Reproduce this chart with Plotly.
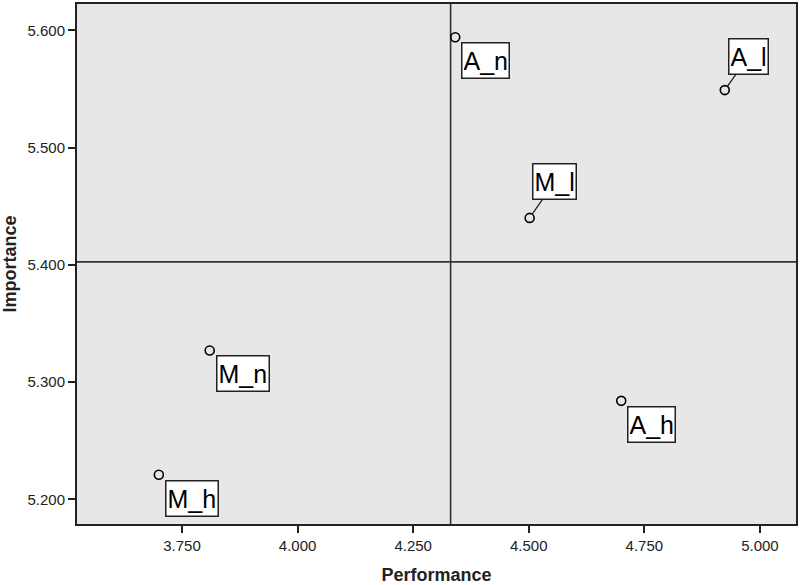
import plotly.graph_objects as go

# ---- data ----
labels = ["A_n", "A_l", "M_l", "M_n", "M_h", "A_h"]
performance = [4.341, 4.924, 4.502, 3.810, 3.700, 4.700]
importance = [5.594, 5.549, 5.440, 5.327, 5.221, 5.284]
mean_performance = 4.331
mean_importance = 5.4025
x_ticks = [3.75, 4.0, 4.25, 4.5, 4.75, 5.0]
y_ticks = [5.2, 5.3, 5.4, 5.5, 5.6]

# ---- label placement (pixel offsets) ----
leader = {"A_l": (24, -34), "M_l": (25, -36)}

FONT = "Liberation Sans, Arial, sans-serif"

fig = go.Figure()
fig.add_trace(go.Scatter(
    x=performance, y=importance, mode="markers",
    marker=dict(symbol="circle-open", size=9, color="black",
                line=dict(width=1.6, color="black")),
    hoverinfo="skip", showlegend=False))

fig.add_shape(type="line", xref="x", yref="paper", x0=mean_performance, x1=mean_performance,
              y0=0, y1=1, line=dict(color="#333333", width=1.6), layer="below")
fig.add_shape(type="line", xref="paper", yref="y", x0=0, x1=1,
              y0=mean_importance, y1=mean_importance,
              line=dict(color="#333333", width=1.6), layer="below")

for lab, px, py in zip(labels, performance, importance):
    common = dict(x=px, y=py, xref="x", yref="y", text=lab,
                  font=dict(family=FONT, size=25, color="black"),
                  bgcolor="white", bordercolor="#222222", borderwidth=1.5,
                  borderpad=1, height=32)
    if lab in leader:
        ax, ay = leader[lab]
        fig.add_annotation(**common, showarrow=True, ax=ax, ay=ay,
                           arrowhead=0, arrowwidth=1.3, arrowcolor="#222222",
                           standoff=4.5)
    else:
        fig.add_annotation(**common, showarrow=False, xanchor="left", yanchor="top",
                           xshift=6, yshift=-5)

axis_common = dict(showgrid=False, zeroline=False, showline=True, mirror=True,
                   linecolor="#222222", linewidth=2, ticks="outside", ticklen=7,
                   tickwidth=2, tickcolor="#222222", tickformat=".3f",
                   tickfont=dict(family=FONT, size=15, color="#222222"))

fig.update_xaxes(range=[3.523, 5.078], tickvals=x_ticks,
                 title=dict(text="<b>Performance</b>", standoff=16,
                            font=dict(family=FONT, size=18, color="#222222")),
                 **axis_common)
fig.update_yaxes(range=[5.179, 5.6224], tickvals=y_ticks,
                 title=dict(text="<b>Importance</b>", standoff=12,
                            font=dict(family=FONT, size=18, color="#222222")),
                 **axis_common)

fig.update_layout(width=800, height=585,
                  margin=dict(l=77, r=3, t=2, b=56),
                  plot_bgcolor="#e7e7e7", paper_bgcolor="white",
                  font=dict(family=FONT))

fig.write_html("out.html", config={"displayModeBar": False},
               post_script="document.body.style.margin='0';")
